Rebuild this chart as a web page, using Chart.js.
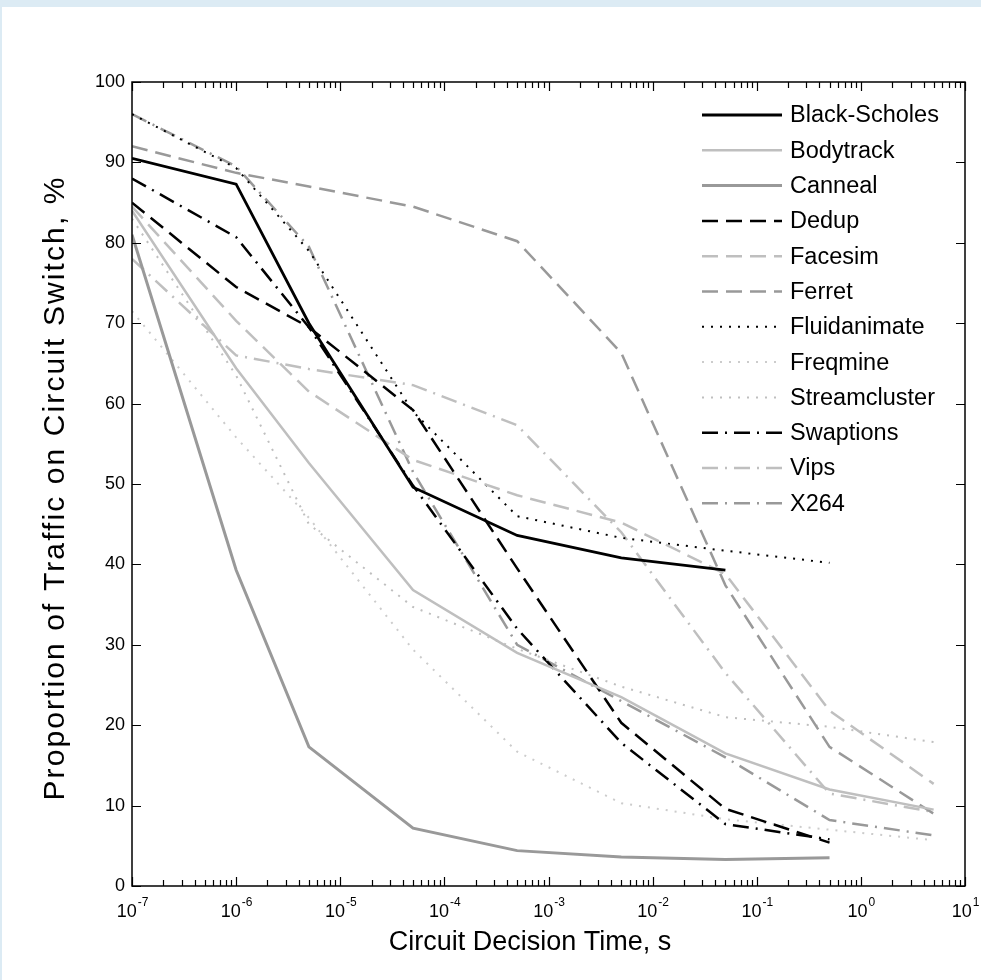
<!DOCTYPE html>
<html>
<head>
<meta charset="utf-8">
<script src="https://cdn.jsdelivr.net/npm/chart.js@4.4.1/dist/chart.umd.min.js"></script>
<style>
    html, body { margin: 0; padding: 0; background: #dcebf4; }
    #wrap { position: absolute; left: 2px; top: 7px; width: 979px; height: 973px; background: #fff; }
</style>
</head>
<body>
<div id="wrap"><canvas id="circuit-chart" width="979" height="973"></canvas></div>
<script>
// decision times (s) where each benchmark was measured
const decisionTimes = [1e-7, 1e-6, 5e-6, 5e-5, 5e-4, 5e-3, 5e-2, 5e-1, 5];

// proportion of traffic on circuit switch, %
const blackScholes  = [90.5, 87.3, 70.0, 49.6, 43.6, 40.8, 39.3];
const bodytrack     = [84.0, 64.4, 52.6, 36.8, 29.0, 23.5, 16.5, 12.0, 9.5];
const canneal       = [81.0, 39.3, 17.3, 7.2, 4.4, 3.6, 3.3, 3.5];
const dedup         = [85.0, 74.5, 69.5, 59.2, 39.5, 20.3, 9.6, 5.4];
const facesim       = [84.5, 70.3, 61.5, 53.0, 48.6, 45.2, 38.8, 21.8, 12.7];
const ferret        = [92.0, 88.7, 87.0, 84.5, 80.2, 66.3, 37.4, 17.3, 9.0];
const fluidanimate  = [96.0, 89.3, 79.0, 59.0, 46.0, 43.3, 41.7, 40.2];
const freqmine      = [71.5, 55.8, 45.8, 29.4, 16.7, 10.3, 8.3, 7.0, 5.7];
const streamcluster = [83.0, 63.5, 45.0, 34.7, 29.5, 24.8, 21.0, 19.8, 17.9];
const swaptions     = [88.0, 80.7, 69.5, 49.8, 32.0, 17.8, 7.7, 5.8];
const vips          = [78.0, 66.0, 64.3, 62.3, 57.3, 44.0, 26.5, 11.5, 9.2];
const x264          = [96.0, 89.5, 79.5, 51.5, 30.0, 23.0, 16.0, 8.2, 6.3];

const yTicks = [0, 10, 20, 30, 40, 50, 60, 70, 80, 90, 100];
const xDecades = [-7, -6, -5, -4, -3, -2, -1, 0, 1];

const BLACK = '#000000';
const LIGHT = '#bfbfbf';
const MID = '#999999';
const DASH = [16, 8];
const DOT = [2, 7];
const DASHDOT = [16, 7, 2, 7];

function series(label, values, color, dash, width) {
    return {
        label: label,
        data: values.map((v, i) => ({x: decisionTimes[i], y: v})),
        borderColor: color,
        borderDash: dash,
        borderWidth: width,
        pointRadius: 0,
        fill: false,
        tension: 0,
    };
}

const datasets = [
    series('Black-Scholes', blackScholes, BLACK, [], 2.8),
    series('Bodytrack', bodytrack, LIGHT, [], 2.5),
    series('Canneal', canneal, MID, [], 3),
    series('Dedup', dedup, BLACK, DASH, 2.5),
    series('Facesim', facesim, LIGHT, DASH, 2.5),
    series('Ferret', ferret, MID, DASH, 2.5),
    series('Fluidanimate', fluidanimate, BLACK, DOT, 2),
    series('Freqmine', freqmine, '#cccccc', DOT, 2),
    series('Streamcluster', streamcluster, LIGHT, DOT, 2),
    series('Swaptions', swaptions, BLACK, DASHDOT, 2.5),
    series('Vips', vips, LIGHT, DASHDOT, 2.5),
    series('X264', x264, MID, DASHDOT, 2.5),
];

const FONT = "'Liberation Sans', Arial, sans-serif";

// matlab style box: inward ticks, labels, titles and legend
const matlabAxes = {
    id: 'matlabAxes',
    afterDraw(chart) {
        const ctx = chart.ctx;
        const a = chart.chartArea;
        const xs = chart.scales.x;
        const ys = chart.scales.y;
        ctx.save();
        ctx.strokeStyle = '#000';
        ctx.fillStyle = '#000';
        ctx.lineWidth = 1.5;
        ctx.setLineDash([]);
        ctx.strokeRect(a.left, a.top, a.right - a.left, a.bottom - a.top);

        ctx.beginPath();
        xDecades.forEach((d) => {
            for (let m = 1; m <= 9; m++) {
                if (d === 1 && m > 1) break;
                const px = Math.round(xs.getPixelForValue(m * Math.pow(10, d))) + 0.5;
                const len = m === 1 ? 9 : 6;
                ctx.moveTo(px, a.bottom); ctx.lineTo(px, a.bottom - len);
                ctx.moveTo(px, a.top); ctx.lineTo(px, a.top + len);
            }
        });
        yTicks.forEach((t) => {
            const py = Math.round(ys.getPixelForValue(t)) + 0.5;
            ctx.moveTo(a.left, py); ctx.lineTo(a.left + 9, py);
            ctx.moveTo(a.right, py); ctx.lineTo(a.right - 9, py);
        });
        ctx.lineWidth = 1.2;
        ctx.stroke();

        // y tick labels
        ctx.font = '18px ' + FONT;
        ctx.textAlign = 'right';
        ctx.textBaseline = 'middle';
        yTicks.forEach((t) => {
            ctx.fillText(String(t), a.left - 7, ys.getPixelForValue(t));
        });

        // x tick labels 10^n
        ctx.textBaseline = 'alphabetic';
        xDecades.forEach((d) => {
            const px = xs.getPixelForValue(Math.pow(10, d));
            ctx.font = '18px ' + FONT;
            const w1 = ctx.measureText('10').width;
            ctx.font = '12px ' + FONT;
            const sup = d < 0 ? '-' + (-d) : String(d);
            const w2 = ctx.measureText(sup).width;
            const start = px - (w1 + w2) / 2;
            ctx.textAlign = 'left';
            ctx.font = '18px ' + FONT;
            ctx.fillText('10', start, a.bottom + 31);
            ctx.font = '12px ' + FONT;
            ctx.fillText(sup, start + w1 + 1, a.bottom + 20);
        });

        // axis titles
        ctx.font = '27px ' + FONT;
        ctx.textAlign = 'center';
        ctx.textBaseline = 'middle';
        ctx.fillText('Circuit Decision Time, s', 528, a.bottom + 57);
        ctx.save();
        ctx.translate(54, 481);
        ctx.rotate(-Math.PI / 2);
        ctx.font = '30px ' + FONT;
        ctx.letterSpacing = '2.1px';
        ctx.fillText('Proportion of Traffic on Circuit Switch, %', 0, 0);
        ctx.restore();

        // legend
        ctx.font = '23.5px ' + FONT;
        ctx.textAlign = 'left';
        chart.data.datasets.forEach((ds, i) => {
            const y = 108 + i * 35.3;
            ctx.beginPath();
            ctx.strokeStyle = ds.borderColor;
            ctx.lineWidth = ds.borderWidth;
            ctx.setLineDash(ds.borderDash);
            ctx.moveTo(700, y);
            ctx.lineTo(780, y);
            ctx.stroke();
            ctx.setLineDash([]);
            ctx.fillStyle = '#000';
            ctx.fillText(ds.label, 788, y + 1);
        });
        ctx.restore();
    }
};

const ctx = document.getElementById('circuit-chart').getContext('2d');
new Chart(ctx, {
    type: 'line',
    data: {datasets: datasets},
    options: {
        responsive: false,
        animation: false,
        layout: {padding: {left: 130, top: 75, right: 16, bottom: 94}},
        plugins: {
            legend: {display: false},
            tooltip: {enabled: false},
        },
        scales: {
            x: {
                type: 'logarithmic',
                min: 1e-7,
                max: 10,
                display: false,
            },
            y: {
                type: 'linear',
                min: 0,
                max: 100,
                display: false,
            },
        },
    },
    plugins: [matlabAxes],
});
</script>
</body>
</html>
